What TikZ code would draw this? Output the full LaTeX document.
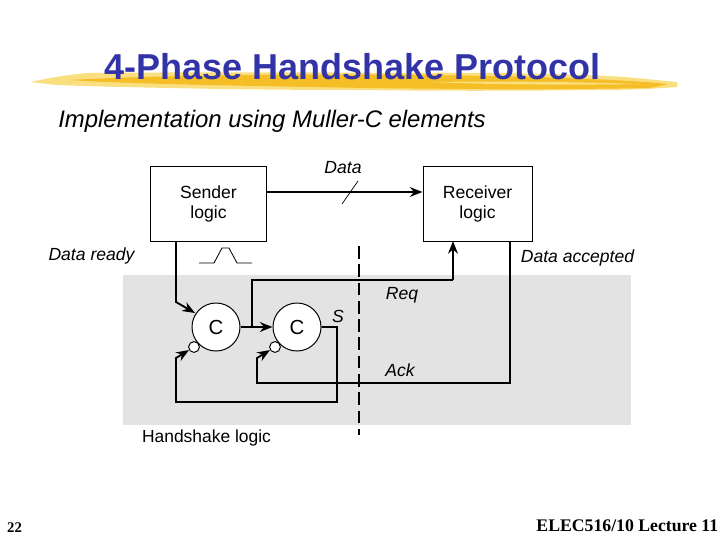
\documentclass[tikz,border=0pt]{standalone}
\usepackage{fontspec}
\setmainfont{Liberation Sans}
\newfontfamily\timesfont{Liberation Serif}
\usetikzlibrary{calc}
\usetikzlibrary{positioning}
\usetikzlibrary{arrows.meta}
\definecolor{titleblue}{HTML}{3333A8}
\definecolor{brushdark}{HTML}{F5BD26}
\definecolor{brushlight}{HTML}{FADF80}
\definecolor{panelgray}{HTML}{E3E3E3}
\tikzset{
  logicbox/.style={draw, line width=0.7pt, fill=white, align=center, inner sep=0pt,
    minimum height=1.875cm, font=\fontsize{12.5}{14.2}\selectfont,
    execute at begin node=\rule{0pt}{12pt}},
  celem/.style={circle, draw, line width=0.7pt, fill=white, inner sep=0pt,
    minimum size=1.2cm, font=\fontsize{14.5}{16}\selectfont},
  bubble/.style={circle, draw, line width=0.7pt, fill=white, inner sep=0pt, minimum size=0.27cm},
  wire/.style={line width=1.3pt, line join=miter},
  wirearrow/.style={wire, -{Stealth[length=9pt,width=7pt]}},
  siglabel/.style={font=\fontsize{12.5}{14}\selectfont\itshape, inner sep=0pt},
}
\begin{document}
\begin{tikzpicture}[x=0.025cm,y=-0.025cm]
  \useasboundingbox (0,0) rectangle (720,540);

  % brush stroke behind the title
  \fill[brushlight] (30,82) .. controls (50,78) and (70,74) .. (90,73)
    .. controls (200,72) and (300,72) .. (400,73) .. controls (480,72) and (580,74) .. (625,77)
    -- (677,82) -- (677,87) .. controls (640,90) and (610,90) .. (593,90)
    .. controls (520,91) and (430,91) .. (360,90) .. controls (280,90) and (220,89) .. (167,88)
    .. controls (120,87) and (80,86) .. (57,85) -- cycle;
  \fill[brushdark] (70,80) .. controls (160,75) and (300,74) .. (420,75)
    .. controls (520,76) and (620,79) .. (668,84) -- (650,88)
    .. controls (540,90) and (420,89) .. (310,87) .. controls (200,85) and (110,83) .. (70,80) -- cycle;
  \fill[brushlight] (430,82) .. controls (500,81) and (580,82) .. (640,84)
    .. controls (580,85) and (500,85) .. (430,82) -- cycle;

  \node[text=titleblue, font=\fontsize{25.6}{30}\selectfont\bfseries, inner sep=0pt] (title) at (352.5,67) {4-Phase Handshake Protocol};
  \node[font=\fontsize{17}{20}\selectfont\itshape, inner sep=0pt] (subtitle) at (272,121) {Implementation using Muller-C elements};

  % shaded panel
  \fill[panelgray] (123,275) rectangle (631,425);

  \node[logicbox, minimum width=2.875cm] (sender) at (208.5,203.5) {Sender\\logic};
  \node[logicbox, minimum width=2.725cm] (receiver) at (477.5,203.5) {Receiver\\logic};
  \node[celem] (c1) at (216,327) {C};
  \node[celem] (c2) at (297,327) {C};
  \node[bubble] (b1) at (194,347) {};
  \node[bubble] (b2) at (275,347) {};

  \node[siglabel] (datalabel) at (343,168) {Data};
  \node[siglabel] (readylabel) at (91.5,256) {Data ready};
  \node[siglabel] (acceptedlabel) at (577.5,258) {Data accepted};
  \node[siglabel] (reqlabel) at (402,295) {Req};
  \node[siglabel] (acklabel) at (400,370) {Ack};
  \node[siglabel] (slabel) at (338,316) {S};
  \node[font=\fontsize{12.4}{14}\selectfont, inner sep=0pt] (hslabel) at (206.5,438) {Handshake logic};

  \coordinate (readytop) at (176,241);
  \coordinate (readybend) at (176,302);
  \coordinate (readyend) at (195,313);
  \coordinate (reqjoin) at (252,327);
  \coordinate (reqcorner) at (252,280);
  \coordinate (reqturn) at (453,280);
  \coordinate (reqend) at (453,241);
  \coordinate (scorner) at (337,327);
  \coordinate (sbottom) at (337,402);
  \coordinate (sleft) at (176,402);
  \coordinate (sbend) at (176,358);
  \coordinate (acktop) at (510,241);
  \coordinate (ackcorner) at (510,383);
  \coordinate (ackleft) at (257,383);
  \coordinate (ackbend) at (257,358);
  \coordinate (slashlow) at (342,204);
  \coordinate (slashhigh) at (358,181);
  \coordinate (dashtop) at (359,246);
  \coordinate (dashbottom) at (359,435);

  \draw[wirearrow] (sender.east |- 0,192) -- (receiver.west |- 0,192);
  \draw[line width=0.5pt] (slashlow) -- (slashhigh);
  \draw[wirearrow] (readytop) -- (readybend) -- (readyend);
  \draw[wirearrow] (c1.east) -- (c2.west);
  \draw[wire] (reqjoin) -- (reqcorner) -- (reqturn);
  \draw[wirearrow] (reqturn) -- (reqend);
  \draw[wirearrow] (c2.east) -- (scorner) -- (sbottom) -- (sleft) -- (sbend) -- (b1);
  \draw[wirearrow] (acktop) -- (ackcorner) -- (ackleft) -- (ackbend) -- (b2);
  \draw[line width=1.3pt, dash pattern=on 9pt off 4pt] (dashtop) -- (dashbottom);

  % pulse under the sender
  \draw[line width=0.6pt] (199,263) -- (214,263) -- (222,248) -- (229,248) -- (237,263) -- (252,263);

  \node[font=\timesfont\bfseries\fontsize{10.5}{12}\selectfont, inner sep=0pt] (pageno) at (14.5,528) {22};
  \node[font=\timesfont\bfseries\fontsize{12.6}{15}\selectfont, inner sep=0pt, anchor=east] (footer) at (718.5,526) {ELEC516/10 Lecture 11};
\end{tikzpicture}
\end{document}
